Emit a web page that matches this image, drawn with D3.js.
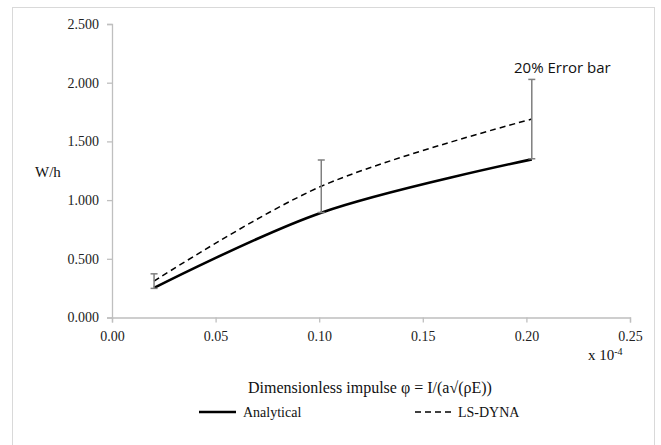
<!DOCTYPE html>
<html><head><meta charset="utf-8">
<script src="https://cdn.jsdelivr.net/npm/d3@7"></script>
<style>body{margin:0;background:#fff}svg{display:block}</style>
</head><body>
<script>
const xValues = [0.0203, 0.101, 0.2026];
const analytical = [0.252, 0.893, 1.347];
const lsdyna = [0.31, 1.118, 1.69];
const errorPct = 0.2;
const xTicks = [0, 0.05, 0.10, 0.15, 0.20, 0.25];
const yTicks = [0, 0.5, 1.0, 1.5, 2.0, 2.5];

const W = 661, H = 445;
const svg = d3.select("body").append("svg").attr("width", W).attr("height", H);
svg.append("rect").attr("x", 12.5).attr("y", 7.5).attr("width", 642).attr("height", 460)
  .attr("fill", "#fff").attr("stroke", "#d9d9d9").attr("stroke-width", 1);

const x = d3.scaleLinear().domain([0, 0.25]).range([112, 630]);
const y = d3.scaleLinear().domain([0, 2.5]).range([317.5, 24]);
const serif = "'Liberation Serif','Times New Roman',serif";

const xAxis = svg.append("g").attr("transform", `translate(0,${y(0)})`)
  .call(d3.axisBottom(x).tickValues(xTicks).tickFormat(d3.format(".2f")).tickSizeOuter(0).tickSize(5).tickPadding(9));
const yAxis = svg.append("g").attr("transform", `translate(${x(0)},0)`)
  .call(d3.axisLeft(y).tickValues(yTicks).tickFormat(d3.format(".3f")).tickSizeOuter(0).tickSize(5).tickPadding(8));
[xAxis, yAxis].forEach(g => {
  g.select(".domain").attr("stroke", "#bfbfbf").attr("stroke-width", 1.3);
  g.selectAll(".tick line").attr("stroke", "#bfbfbf").attr("stroke-width", 1.3);
  g.selectAll("text").attr("font-family", serif).attr("font-size", 14).attr("fill", "#222");
});

const data = xValues.map((v, i) => ({x: v, a: analytical[i], l: lsdyna[i]}));
const curve = d3.curveCatmullRom.alpha(0.5);
svg.append("path").datum(data)
  .attr("d", d3.line().x(d => x(d.x)).y(d => y(d.a)).curve(curve))
  .attr("fill", "none").attr("stroke", "#000").attr("stroke-width", 2.6);
svg.append("path").datum(data)
  .attr("d", d3.line().x(d => x(d.x)).y(d => y(d.l)).curve(curve))
  .attr("fill", "none").attr("stroke", "#000").attr("stroke-width", 1.5).attr("stroke-dasharray", "6,4");

const eb = svg.append("g").attr("stroke", "#7f7f7f").attr("stroke-width", 1.5);
data.forEach(d => {
  const top = y(d.l * (1 + errorPct)), bot = y(d.l * (1 - errorPct)), cx = x(d.x);
  eb.append("line").attr("x1", cx).attr("x2", cx).attr("y1", top).attr("y2", bot);
  eb.append("line").attr("x1", cx - 3.5).attr("x2", cx + 3.5).attr("y1", top).attr("y2", top);
  eb.append("line").attr("x1", cx - 3.5).attr("x2", cx + 3.5).attr("y1", bot).attr("y2", bot);
});

svg.append("text").attr("x", 514).attr("y", 73).attr("font-family", "'Open Sans',Lato,sans-serif")
  .attr("font-size", 15).attr("fill", "#111").text("20% Error bar");

svg.append("text").attr("x", 35).attr("y", 177).attr("font-family", serif).attr("font-size", 15)
  .attr("fill", "#111").text("W/h");

const xl = svg.append("text").attr("x", 588).attr("y", 360).attr("font-family", serif).attr("font-size", 15).attr("fill", "#111");
xl.append("tspan").text("x 10");
xl.append("tspan").attr("dy", -5).attr("font-size", 10).text("-4");

svg.append("text").attr("x", 370).attr("y", 393).attr("text-anchor", "middle").attr("font-family", serif)
  .attr("font-size", 16).attr("fill", "#111").text("Dimensionless impulse φ = I/(a√(ρE))");

const lg = svg.append("g").attr("font-family", serif).attr("font-size", 14).attr("fill", "#111");
lg.append("line").attr("x1", 199).attr("x2", 236).attr("y1", 412).attr("y2", 412).attr("stroke", "#000").attr("stroke-width", 2.6);
lg.append("text").attr("x", 243).attr("y", 417).text("Analytical");
lg.append("line").attr("x1", 415).attr("x2", 451).attr("y1", 412).attr("y2", 412).attr("stroke", "#000").attr("stroke-width", 1.5).attr("stroke-dasharray", "6,4");
lg.append("text").attr("x", 458).attr("y", 417).text("LS-DYNA");
</script>
</body></html>
